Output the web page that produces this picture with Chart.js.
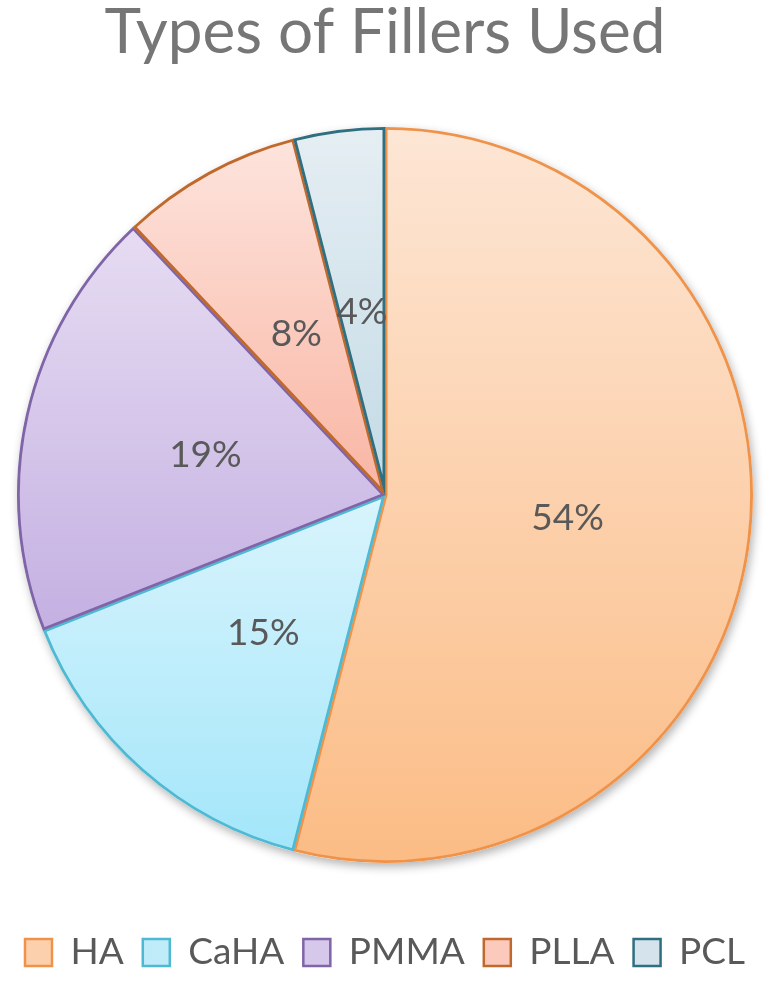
<!DOCTYPE html>
<html>
<head>
<meta charset="utf-8">
<script src="https://cdn.jsdelivr.net/npm/chart.js@4.4.0/dist/chart.umd.min.js"></script>
<style>
html,body{margin:0;padding:0;background:#fff;}
#wrap{width:768px;height:981px;position:relative;}
</style>
</head>
<body>
<div id="wrap"><canvas id="c" width="768" height="981"></canvas></div>
<script>
const titleText = "Types of Fillers Used";
const categories = ["HA", "CaHA", "PMMA", "PLLA", "PCL"];
const values = [54, 15, 19, 8, 4];
const labelsText = ["54%", "15%", "19%", "8%", "4%"];

const topColors = ["#fde6d5", "#d9f4fc", "#e6dcf2", "#fde4dd", "#e5eef3"];
const bottomColors = ["#fbbc85", "#a3e6fa", "#c4b0e2", "#f9b5a3", "#c3dae5"];
const borderColors = ["#f0934a", "#4db9d2", "#8064a8", "#c0692c", "#2f6f80"];
const legendFill = ["#fcd0ad", "#c0ecfa", "#d6c8ea", "#fccabd", "#d5e4ec"];

const total = values.reduce((a, b) => a + b, 0);

function sliceYRange(i, cy, r) {
  let start = 0;
  for (let k = 0; k < i; k++) start += values[k] / total * Math.PI * 2;
  const end = start + values[i] / total * Math.PI * 2;
  const ys = [cy];
  const ptY = a => cy - r * Math.cos(a);
  ys.push(ptY(start), ptY(end));
  if (start <= 0) ys.push(cy - r);
  if (start <= Math.PI && end >= Math.PI) ys.push(cy + r);
  if (end >= Math.PI * 2) ys.push(cy - r);
  return [Math.min(...ys), Math.max(...ys)];
}

const PIE_RADIUS = 368;

function bg(ctx) {
  const chart = ctx.chart;
  const area = chart.chartArea;
  const i = ctx.dataIndex;
  if (!area || i === undefined) return legendFill[i] || "#ccc";
  const cy = (area.top + area.bottom) / 2;
  const r = Math.min(PIE_RADIUS, (area.right - area.left) / 2, (area.bottom - area.top) / 2);
  const [y0, y1] = sliceYRange(i, cy, r);
  const g = chart.ctx.createLinearGradient(0, y0, 0, y1);
  g.addColorStop(0, topColors[i]);
  g.addColorStop(1, bottomColors[i]);
  return g;
}

const shadowPlugin = {
  id: "shadow",
  beforeDatasetsDraw(chart) {
    const meta = chart.getDatasetMeta(0);
    const arc = meta.data[0];
    if (!arc) return;
    const c = chart.ctx;
    c.save();
    c.shadowColor = "rgba(0,0,0,0.30)";
    c.shadowBlur = 10;
    c.shadowOffsetX = 2;
    c.shadowOffsetY = 4;
    c.fillStyle = "#ffffff";
    c.beginPath();
    c.arc(arc.x, arc.y, arc.outerRadius, 0, Math.PI * 2);
    c.fill();
    c.restore();
  }
};

const labelPlugin = {
  id: "sliceLabels",
  afterDatasetsDraw(chart) {
    const meta = chart.getDatasetMeta(0);
    const c = chart.ctx;
    c.save();
    c.font = "37px Lato, 'Open Sans', sans-serif";
    c.fillStyle = "#595959";
    c.textAlign = "center";
    c.textBaseline = "middle";
    meta.data.forEach((arc, i) => {
      const p = arc.tooltipPosition();
      c.fillText(labelsText[i], p.x, p.y);
    });
    c.restore();
  }
};

new Chart(document.getElementById("c"), {
  type: "pie",
  data: {
    labels: categories,
    datasets: [{
      data: values,
      backgroundColor: bg,
      borderColor: borderColors,
      borderWidth: 2.5,
      borderAlign: "inner",
      radius: PIE_RADIUS
    }]
  },
  options: {
    responsive: false,
    animation: false,
    layout: { padding: { top: 0, bottom: 0, left: 2, right: 0 } },
    plugins: {
      title: {
        display: true,
        text: titleText,
        color: "#767676",
        font: { family: "Lato, 'Open Sans', sans-serif", size: 62, weight: "normal", lineHeight: "66px" },
        padding: { top: 0, bottom: 9 }
      },
      legend: {
        position: "bottom",
        labels: {
          color: "#595959",
          font: { family: "Lato, 'Open Sans', sans-serif", size: 37 },
          boxWidth: 27,
          boxHeight: 27,
          padding: 19,
          useBorderRadius: true,
          borderRadius: 4,
          generateLabels(chart) {
            return categories.map((name, i) => ({
              text: name,
              fillStyle: legendFill[i],
              strokeStyle: borderColors[i],
              lineWidth: 2.5,
              fontColor: "#595959",
              index: i,
              hidden: false
            }));
          }
        }
      },
      tooltip: { enabled: false }
    }
  },
  plugins: [shadowPlugin, labelPlugin]
});
</script>
</body>
</html>
